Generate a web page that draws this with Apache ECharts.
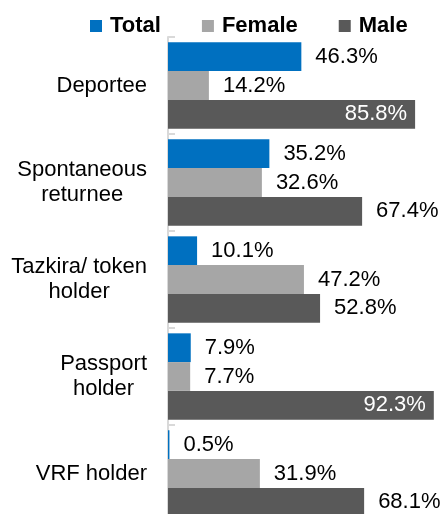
<!DOCTYPE html>
<html>
<head>
<meta charset="utf-8">
<script src="https://cdn.jsdelivr.net/npm/echarts@6/dist/echarts.min.js"></script>
<style>
  html, body { margin: 0; padding: 0; background: #fff; }
  #chart { width: 441px; height: 514px; }
</style>
</head>
<body>
<div id="chart"></div>
<script>
// categories, top to bottom
const categories = ['Deportee', 'Spontaneous\nreturnee', 'Tazkira/ token\nholder', 'Passport\nholder', 'VRF holder']
const seriesNames = ['Total', 'Female', 'Male']
const totalValues = [46.3, 35.2, 10.1, 7.9, 0.5]
const femaleValues = [14.2, 32.6, 47.2, 7.7, 31.9]
const maleValues = [85.8, 67.4, 52.8, 92.3, 68.1]
const colors = ['#0070C0', '#A6A6A6', '#595959']

const font = "'Liberation Sans', Arial, sans-serif"

// labels outside the bar, except long male bars which get a white label inside
function makeData(values, insideFrom) {
	return values.map(v => {
		if (insideFrom && v >= insideFrom) {
			return { value: v, label: { position: 'insideRight', distance: 8, color: '#fff' } }
		}
		return v
	})
}

const chart = echarts.init(document.getElementById('chart'))
const valueLists = [totalValues, femaleValues, maleValues]

chart.setOption({
	animation: false,
	textStyle: { fontFamily: font },
	legend: {
		left: 85,
		top: 10,
		itemWidth: 12,
		itemHeight: 12,
		itemGap: 41,
		icon: 'rect',
		textStyle: { fontSize: 22, fontWeight: 'bold', color: '#000', fontFamily: font, padding: [0, 0, 0, 3] },
		data: seriesNames
	},
	grid: { left: 168, top: 37, width: 288, height: 485, outerBoundsMode: 'none' },
	xAxis: {
		type: 'value',
		min: 0,
		max: 100,
		show: false
	},
	yAxis: [
		{
			type: 'category',
			data: categories,
			inverse: true,
			axisLine: { lineStyle: { color: '#D9D9D9', width: 2 } },
			axisTick: { length: 7, lineStyle: { color: '#D9D9D9', width: 2 } },
			axisLabel: {
				margin: 21,
				color: '#000',
				fontSize: 22,
				lineHeight: 25,
				formatter: v => v.split('\n').map(l => '{c|' + l + '}').join('\n'),
				rich: { c: { align: 'center', fontSize: 22, lineHeight: 25, color: '#000', fontFamily: font } }
			}
		},
		{
			// second copy only for the inner half of the ticks
			type: 'category',
			data: categories,
			inverse: true,
			position: 'left',
			offset: 0,
			axisLine: { show: false },
			axisTick: { show: true, inside: true, length: 7, lineStyle: { color: '#D9D9D9', width: 2 } },
			axisLabel: { show: false }
		}
	],
	series: seriesNames.map((name, i) => ({
		name: name,
		type: 'bar',
		yAxisIndex: 0,
		barGap: '0%',
		barCategoryGap: '11%',
		itemStyle: { color: colors[i] },
		label: {
			show: true,
			position: 'right',
			distance: 14,
			fontSize: 22,
			color: '#000',
			fontFamily: font,
			formatter: p => p.value.toFixed(1) + '%'
		},
		data: makeData(valueLists[i], i === 2 ? 80 : null)
	}))
})
</script>
</body>
</html>
